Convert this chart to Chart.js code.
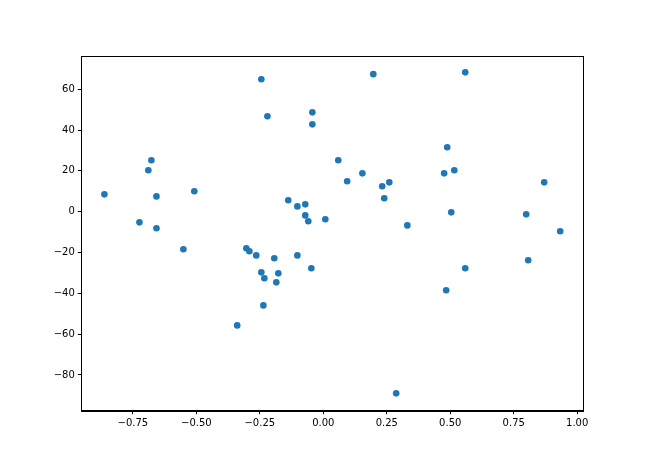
<!DOCTYPE html>
<html>
<head>
<meta charset="utf-8">
<script src="https://cdn.jsdelivr.net/npm/chart.js@4"></script>
<style>
html,body{margin:0;padding:0;background:#fff;}
#wrap{width:648px;height:468px;}
</style>
</head>
<body>
<div id="wrap"><canvas id="c" width="648" height="468"></canvas></div>
<script>
const xValues = [-0.862,-0.724,-0.677,-0.689,-0.657,-0.657,-0.508,-0.551,-0.244,-0.220,
  -0.043,-0.043,0.059,0.094,-0.138,-0.102,-0.071,-0.071,-0.059,0.008,
  -0.303,-0.291,-0.264,-0.193,-0.102,-0.244,-0.232,-0.177,-0.185,-0.047,
  -0.236,-0.339,0.197,0.559,0.488,0.154,0.232,0.260,0.240,0.476,
  0.516,0.504,0.331,0.799,0.870,0.933,0.807,0.559,0.484,0.287];
const yValues = [8.5,-5.2,25.2,20.3,7.5,-8.1,10.0,-18.4,64.9,46.8,
  48.7,42.8,25.2,14.9,5.6,2.6,3.6,-1.8,-4.7,-3.7,
  -17.9,-19.4,-21.4,-22.8,-21.4,-29.7,-32.6,-30.2,-34.6,-27.7,
  -45.9,-55.7,67.4,68.3,31.6,18.8,12.5,14.4,6.6,18.8,
  20.3,-0.3,-6.7,-1.3,14.4,-9.6,-23.8,-27.7,-38.5,-89.0];
const xTicks = [-0.75,-0.50,-0.25,0.00,0.25,0.50,0.75,1.00];
const yTicks = [-80,-60,-40,-20,0,20,40,60];

const points = xValues.map((x,i)=>({x:x,y:yValues[i]}));
const fmt = (v,d) => { const s = Math.abs(v).toFixed(d); return v < 0 ? '\u2212' + s : s; };

const framePlugin = {
  id:'frame',
  afterDraw(chart){
    const {ctx, chartArea:a} = chart;
    ctx.save();
    ctx.strokeStyle = '#000';
    ctx.lineWidth = 1;
    ctx.strokeRect(Math.round(a.left)+0.5, Math.round(a.top)+0.5, Math.round(a.right-a.left), Math.round(a.bottom-a.top));
    ctx.restore();
  }
};

new Chart(document.getElementById('c'), {
  type:'scatter',
  data:{datasets:[{data:points, backgroundColor:'#1f77b4', borderColor:'#1f77b4', pointRadius:3.3, pointHoverRadius:3.3, borderWidth:0}]},
  options:{
    responsive:false,
    animation:false,
    devicePixelRatio:1,
    layout:{padding:{left:0,right:64.7,top:56,bottom:27.3}},
    plugins:{legend:{display:false},tooltip:{enabled:false}},
    scales:{
      x:{
        type:'linear', min:-0.953, max:1.024,
        afterBuildTicks(s){ s.ticks = xTicks.map(v=>({value:v})); },
        afterFit(s){ s.height = 30; },
        grid:{drawOnChartArea:false, drawTicks:true, tickLength:3.5, tickColor:'#000'},
        border:{display:true, color:'#000'},
        ticks:{padding:3, color:'#000', font:{family:'DejaVu Sans', size:10}, maxRotation:0, autoSkip:false,
          callback:(v)=>fmt(v,2)}
      },
      y:{
        type:'linear', min:-97.5, max:76.3,
        afterBuildTicks(s){ s.ticks = yTicks.map(v=>({value:v})); },
        afterFit(s){ s.width = 81.3; },
        grid:{drawOnChartArea:false, drawTicks:true, tickLength:3.5, tickColor:'#000'},
        border:{display:true, color:'#000'},
        ticks:{padding:3, color:'#000', font:{family:'DejaVu Sans', size:10}, autoSkip:false,
          callback:(v)=>fmt(v,0)}
      }
    }
  },
  plugins:[framePlugin]
});
</script>
</body>
</html>
